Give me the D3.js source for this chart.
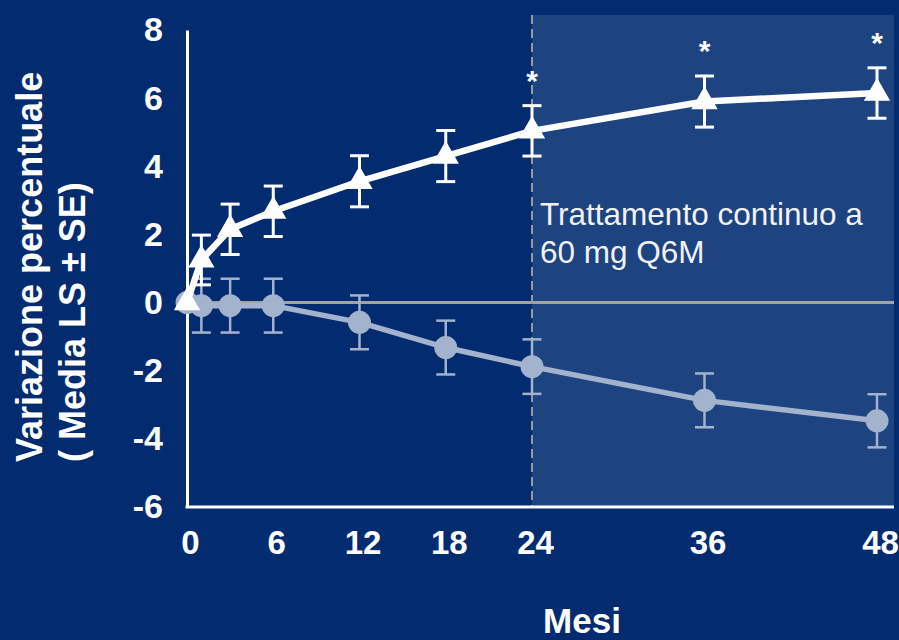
<!DOCTYPE html>
<html>
<head>
<meta charset="utf-8">
<script src="https://cdn.jsdelivr.net/npm/d3@7"></script>
<style>
  html, body { margin: 0; padding: 0; background: #022c6f; }
  svg { display: block; font-family: "Liberation Sans", Arial, sans-serif; }
</style>
</head>
<body>
<svg id="chart" width="899" height="640"></svg>
<script>
// ---- data ----
const months = [0, 1, 3, 6, 12, 18, 24, 36, 48];
const treatedValues = [0, 1.25, 2.15, 2.68, 3.56, 4.30, 5.04, 5.90, 6.15];
const treatedErrors = [0, 0.73, 0.74, 0.74, 0.75, 0.75, 0.74, 0.75, 0.74];
const placeboValues = [0, -0.09, -0.09, -0.09, -0.58, -1.32, -1.88, -2.87, -3.47];
const placeboErrors = [0, 0.79, 0.79, 0.79, 0.79, 0.79, 0.80, 0.79, 0.78];
const significantMonths = [24, 36, 48];
const xTickValues = [0, 6, 12, 18, 24, 36, 48];
const yTickValues = [-6, -4, -2, 0, 2, 4, 6, 8];
const shadeStartMonth = 24;
const yTitleLines = ["Variazione percentuale", "( Media LS \u00B1 SE)"];
const xTitle = "Mesi";
const noteLines = ["Trattamento continuo a", "60 mg Q6M"];

// ---- layout ----
const svg = d3.select("#chart");
const W = 899, H = 640;
const x = d3.scaleLinear().domain([0, 48]).range([187, 877]);
const y = d3.scaleLinear().domain([-6, 8]).range([507, 30]);
const plotRight = 894;
const bg = "#022c6f", shade = "#1d4381", placeboColor = "#a4b3cd";

svg.append("rect").attr("width", W).attr("height", H).attr("fill", bg);

// shaded continuation region
svg.append("rect")
  .attr("x", x(shadeStartMonth)).attr("y", 15)
  .attr("width", plotRight - x(shadeStartMonth)).attr("height", y(-6) - 15)
  .attr("fill", shade);

// zero line
svg.append("line")
  .attr("x1", x(0)).attr("x2", plotRight)
  .attr("y1", y(0)).attr("y2", y(0))
  .attr("stroke", "#a3a3a3").attr("stroke-width", 3);

// dashed vertical line
svg.append("line")
  .attr("x1", x(shadeStartMonth)).attr("x2", x(shadeStartMonth))
  .attr("y1", 15).attr("y2", y(-6))
  .attr("stroke", "#9a9a9a").attr("stroke-width", 2)
  .attr("stroke-dasharray", "9,5");

// y axis
const yAxis = svg.append("g")
  .attr("transform", `translate(${x(0)},0)`)
  .call(d3.axisLeft(y).tickValues(yTickValues).tickFormat(d => String(d))
    .tickSize(0).tickSizeOuter(0).tickPadding(24));
yAxis.select(".domain").attr("stroke", "#ffffff").attr("stroke-width", 3);
yAxis.selectAll("text")
  .attr("fill", "#ffffff").attr("font-size", 34).attr("font-weight", "bold")
  .attr("font-family", "Liberation Sans, Arial, sans-serif");

// x axis
const xAxis = svg.append("g")
  .attr("transform", `translate(0,${y(-6)})`)
  .call(d3.axisBottom(x).tickValues(xTickValues).tickFormat(d => String(d))
    .tickSize(0).tickSizeOuter(0).tickPadding(24));
xAxis.select(".domain").remove();
xAxis.selectAll("text")
  .attr("fill", "#ffffff").attr("font-size", 33).attr("font-weight", "bold")
  .attr("dx", 3)
  .attr("font-family", "Liberation Sans, Arial, sans-serif");
svg.append("line")
  .attr("x1", x(0) - 1.5).attr("x2", plotRight)
  .attr("y1", y(-6)).attr("y2", y(-6))
  .attr("stroke", "#ffffff").attr("stroke-width", 3);

// axis titles
yTitleLines.forEach((t, i) => {
  svg.append("text")
    .attr("transform", `translate(${42 + i * 43},462) rotate(-90)`)
    .attr("text-anchor", "start")
    .attr("fill", "#ffffff").attr("font-size", 36).attr("font-weight", "bold")
    .text(t);
});
svg.append("text")
  .attr("x", 582).attr("y", 633).attr("text-anchor", "middle")
  .attr("fill", "#ffffff").attr("font-size", 35).attr("font-weight", "bold")
  .text(xTitle);

// ---- series ----
function drawSeries(values, errors, color, lineWidth, errWidth, symbolType, symbolSize) {
  const pts = months.map((m, i) => ({ m, v: values[i], e: errors[i] }));
  const g = svg.append("g");
  g.append("path")
    .datum(pts)
    .attr("fill", "none").attr("stroke", color).attr("stroke-width", lineWidth)
    .attr("stroke-linejoin", "round")
    .attr("d", d3.line().x(d => x(d.m)).y(d => y(d.v)));
  const eb = g.selectAll(".eb").data(pts.filter(d => d.e > 0)).enter().append("g")
    .attr("stroke", color).attr("stroke-width", errWidth);
  eb.append("line")
    .attr("x1", d => x(d.m)).attr("x2", d => x(d.m))
    .attr("y1", d => y(d.v + d.e)).attr("y2", d => y(d.v - d.e));
  [1, -1].forEach(s => {
    eb.append("line")
      .attr("x1", d => x(d.m) - 9.5).attr("x2", d => x(d.m) + 9.5)
      .attr("y1", d => y(d.v + s * d.e)).attr("y2", d => y(d.v + s * d.e));
  });
  g.selectAll(".sym").data(pts).enter().append("path")
    .attr("transform", d => `translate(${x(d.m)},${y(d.v)})`)
    .attr("d", d3.symbol().type(symbolType).size(symbolSize))
    .attr("fill", color);
  return pts;
}

drawSeries(placeboValues, placeboErrors, placeboColor, 5.5, 2.5, d3.symbolCircle, Math.PI * 11.5 * 11.5);
const treated = drawSeries(treatedValues, treatedErrors, "#ffffff", 6.5, 3, d3.symbolTriangle, 300);

// significance asterisks
svg.selectAll(".star").data(treated.filter(d => significantMonths.includes(d.m))).enter()
  .append("text")
  .attr("x", d => x(d.m)).attr("y", d => y(d.v + d.e) - 15)
  .attr("text-anchor", "middle")
  .attr("fill", "#ffffff").attr("font-size", 30).attr("font-weight", "bold")
  .text("*");

// annotation
noteLines.forEach((t, i) => {
  svg.append("text")
    .attr("x", 540).attr("y", 225 + i * 38)
    .attr("fill", "#f2f2f2").attr("font-size", 31.5)
    .text(t);
});
</script>
</body>
</html>
